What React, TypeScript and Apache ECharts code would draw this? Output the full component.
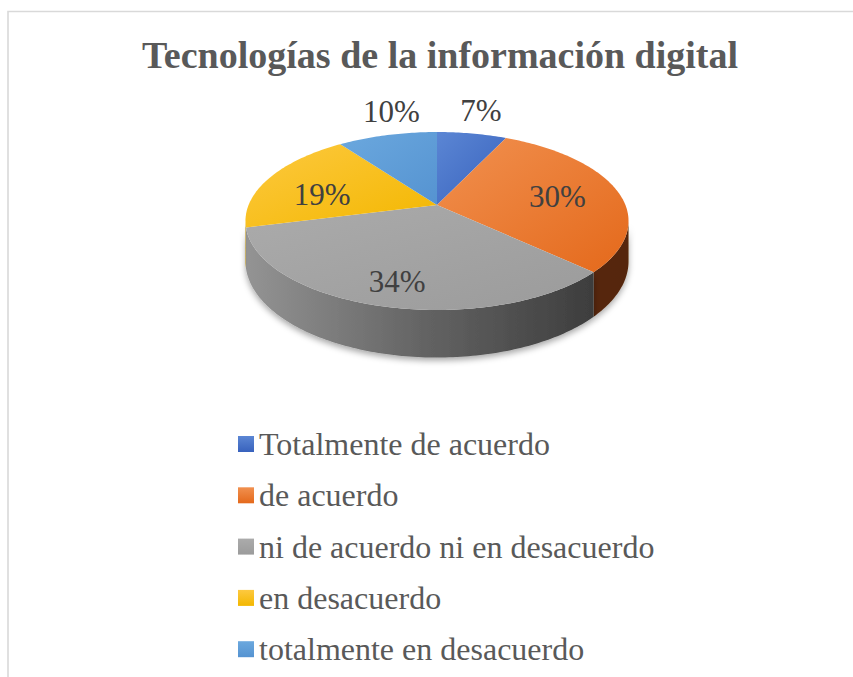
import React, { useEffect, useRef } from "react";
import * as echarts from "echarts";

const categories = [
  "Totalmente de acuerdo",
  "de acuerdo",
  "ni de acuerdo ni en desacuerdo",
  "en desacuerdo",
  "totalmente en desacuerdo",
];
const values = [7, 30, 34, 19, 10];
const percentLabels = ["7%", "30%", "34%", "19%", "10%"];
const titleText = "Tecnologías de la información digital";

const SERIF = "Liberation Serif";

const topColors = [
  ["#5b86d4", "#3862bd"],
  ["#f1904f", "#e4691b"],
  ["#ababab", "#9b9b9b"],
  ["#fdc940", "#f3b700"],
  ["#6ba8de", "#5593d1"],
];
const wallStops = [
  [[0, "#2c4a80"], [1, "#223a66"]],
  [[0, "#6a320e"], [1, "#55270a"]],
  [[0, "#949494"], [0.45, "#656565"], [0.9, "#3e3e3e"], [1, "#3a3a3a"]],
  [[0, "#b08500"], [1, "#9a7400"]],
  [[0, "#3b6a96"], [1, "#2f5780"]],
];
const labelPlace = [
  { r: 1, dx: 9, dy: -23 },
  { r: 0.665, dx: 0, dy: 1.5 },
  { r: 0.787, dx: 3, dy: 0 },
  { r: 0.675, dx: 0, dy: 8 },
  { r: 1, dx: 4, dy: -24 },
];

const CX = 437;
const CY = 205;
const A = 188.4;
const B = 86.1;
const K = 0.18;
const D = 39;

const total = values.reduce((s, v) => s + v, 0);
const starts: number[] = [];
values.reduce((acc, v, i) => {
  starts[i] = acc;
  return acc + v;
}, 0);

function proj(r: number, t: number, depth: number): number[] {
  const u = r * Math.sin(t);
  const v = -r * Math.cos(t);
  const s = 1 / (1 - K * v);
  return [CX + A * u * s, CY + (B * v + depth) * s];
}

const tL = Math.acos(-K);
const tR = 2 * Math.PI - Math.acos(-K);

function makeRenderItem(idx: number) {
  return (params: any, api: any) => {
    const start = api.value(0);
    const val = api.value(1);
    const t0 = (start / total) * 2 * Math.PI;
    const t1 = ((start + val) / total) * 2 * Math.PI;
    const children: any[] = [];
    const a = Math.max(t0, tL);
    const b = Math.min(t1, tR);
    if (b > a) {
      const n = Math.max(2, Math.ceil((b - a) / (Math.PI / 180)));
      const topRim: number[][] = [];
      const botRim: number[][] = [];
      for (let i = 0; i <= n; i++) {
        const t = a + ((b - a) * i) / n;
        topRim.push(proj(1, t, 0));
        botRim.push(proj(1, t, D));
      }
      const pts = topRim.concat(botRim.reverse());
      children.push({
        type: "polygon",
        shape: { points: pts },
        style: {
          fill: new echarts.graphic.LinearGradient(
            245,
            0,
            628,
            0,
            wallStops[idx].map((s: any) => ({ offset: s[0], color: s[1] })),
            true
          ),
          stroke: "none",
          shadowBlur: 6,
          shadowColor: "rgba(0,0,0,0.35)",
          shadowOffsetY: 3,
        },
      });
    }
    const n2 = Math.max(2, Math.ceil((t1 - t0) / (Math.PI / 180)));
    const facePts: number[][] = [proj(0, 0, 0)];
    for (let i = 0; i <= n2; i++) {
      facePts.push(proj(1, t0 + ((t1 - t0) * i) / n2, 0));
    }
    children.push({
      type: "polygon",
      shape: { points: facePts },
      style: {
        fill: new echarts.graphic.LinearGradient(0, 0, 1, 1, [
          { offset: 0, color: topColors[idx][0] },
          { offset: 1, color: topColors[idx][1] },
        ]),
        stroke: "none",
      },
    });
    const lp = labelPlace[idx];
    const mid = (t0 + t1) / 2;
    const p = proj(lp.r, mid, 0);
    children.push({
      type: "text",
      x: p[0] + lp.dx,
      y: p[1] + lp.dy,
      style: {
        text: percentLabels[idx],
        fill: "#404040",
        fontSize: 31,
        fontFamily: SERIF,
        align: "center",
        verticalAlign: "middle",
      },
      z2: 10,
    });
    return { type: "group", children };
  };
}

export default function App() {
  const ref = useRef<HTMLDivElement>(null);
  useEffect(() => {
    if (!ref.current) return;
    const chart = echarts.init(ref.current, undefined, { renderer: "svg" });
    const series = categories.map((name, i) => ({
      type: "custom",
      name,
      coordinateSystem: "none",
      silent: true,
      data: [[starts[i], values[i]]],
      itemStyle: {
        color: new echarts.graphic.LinearGradient(0, 0, 0, 1, [
          { offset: 0, color: topColors[i][0] },
          { offset: 1, color: topColors[i][1] },
        ]),
      },
      renderItem: makeRenderItem(i),
    }));
    chart.setOption({
      animation: false,
      backgroundColor: "#ffffff",
      title: {
        text: titleText,
        left: 137,
        top: 31,
        textStyle: {
          fontSize: 38,
          fontWeight: "bold",
          fontFamily: SERIF,
          color: "#595959",
        },
      },
      legend: {
        orient: "vertical",
        left: 233,
        top: 421,
        icon: "rect",
        itemWidth: 16,
        itemHeight: 16,
        itemGap: 15.3,
        selectedMode: false,
        textStyle: {
          fontSize: 32,
          lineHeight: 36,
          fontFamily: SERIF,
          color: "#595959",
        },
        data: categories,
      },
      graphic: [
        {
          type: "rect",
          shape: { x: 8, y: 11.5, width: 900, height: 700 },
          style: { fill: "none", stroke: "#d9d9d9", lineWidth: 1.6 },
          silent: true,
        },
      ],
      series,
    });
    return () => chart.dispose();
  }, []);
  return (
    <div
      ref={ref}
      style={{ position: "absolute", left: 0, top: 0, width: 853, height: 677 }}
    />
  );
}
